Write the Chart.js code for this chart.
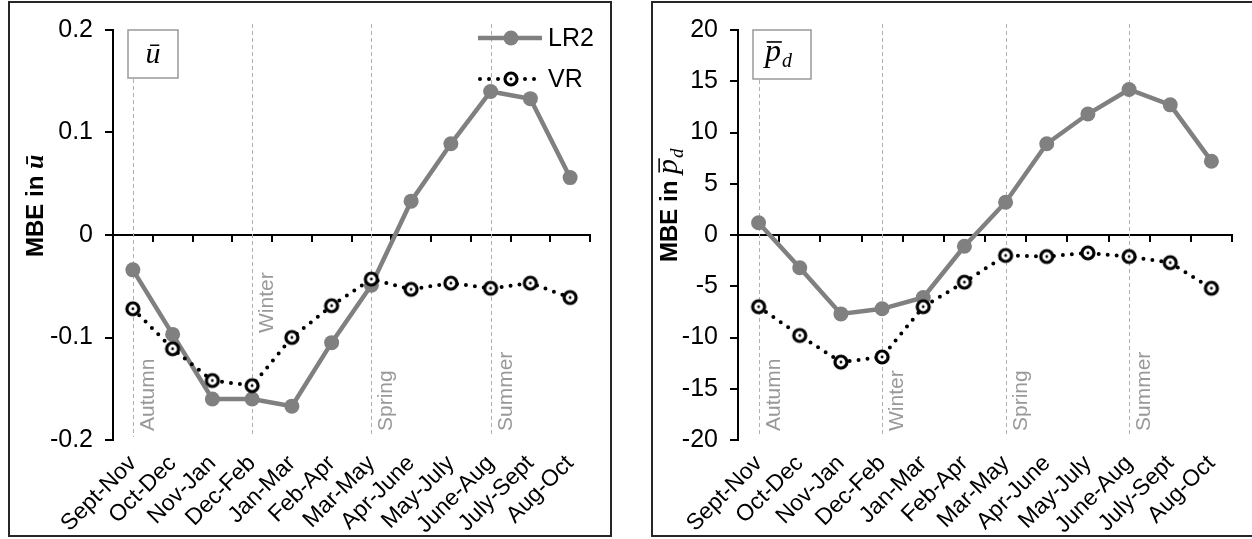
<!DOCTYPE html>
<html>
<head>
<meta charset="utf-8">
<script src="https://cdn.jsdelivr.net/npm/chart.js@4"></script>
<style>
body{margin:0;background:#fff;width:1252px;height:539px;overflow:hidden;position:relative;}
.panel{position:absolute;border:2px solid #262626;background:#fff;}
.panel canvas{display:block;}
</style>
</head>
<body>
<div class="panel" style="left:8px;top:1px;width:600px;height:532px"><canvas id="uChart" width="600" height="532"></canvas></div>
<div class="panel" style="left:651px;top:1px;width:601px;height:532px"><canvas id="pdChart" width="599" height="532"></canvas></div>
<script>
// three-month windows on the x axis
const periods = ["Sept-Nov","Oct-Dec","Nov-Jan","Dec-Feb","Jan-Mar","Feb-Apr","Mar-May","Apr-June","May-July","June-Aug","July-Sept","Aug-Oct"];

// MBE of mean wind speed
const uLR2 = [-0.034,-0.097,-0.160,-0.160,-0.167,-0.105,-0.049,0.033,0.089,0.140,0.133,0.056];
const uVR  = [-0.072,-0.111,-0.142,-0.147,-0.100,-0.069,-0.043,-0.053,-0.047,-0.052,-0.047,-0.061];

// MBE of mean power density
const pdLR2 = [1.2,-3.2,-7.7,-7.2,-6.1,-1.1,3.2,8.9,11.8,14.2,12.7,7.2];
const pdVR  = [-7.0,-9.8,-12.4,-11.9,-7.0,-4.6,-2.0,-2.1,-1.75,-2.1,-2.7,-5.2];

// season boundaries
const seasonNames  = ["Autumn","Winter","Spring","Summer"];
const seasonStarts = ["Sept-Nov","Dec-Feb","Mar-May","June-Aug"];

const SANS = 'Arial, "Liberation Sans", sans-serif';
const SERIF = '"Liberation Serif", "Times New Roman", serif';
const GREY = "#808080";

Chart.defaults.font.family = SANS;
Chart.defaults.color = "#000";

// open ring marker for VR
function ringMarker(){
const c=document.createElement("canvas");
c.width=20;c.height=20;
const g=c.getContext("2d");
g.beginPath();g.arc(10,10,6,0,Math.PI*2);
g.fillStyle="#fff";g.fill();
g.lineWidth=3.2;g.strokeStyle="#000";g.stroke();
g.beginPath();g.arc(10,10,1.4,0,Math.PI*2);
g.fillStyle="#000";g.fill();
return c;
}
const ring = ringMarker();

// italic u with bar
function drawU(ctx,x,y,size,bold){
ctx.font=(bold?"bold ":"")+"italic "+size+"px "+SERIF;
ctx.fillText("\u016B",x,y);
return ctx.measureText("\u016B").width;
}

// italic p with overline and subscript d
function drawPd(ctx,x,y,size){
ctx.font="italic "+size+"px "+SERIF;
ctx.fillText("p",x,y);
const w=ctx.measureText("p").width;
ctx.fillRect(x+size*0.05,y-size*0.62,w*0.95,Math.max(1.2,size*0.05));
const s=Math.round(size*0.62);
ctx.font="italic "+s+"px "+SERIF;
ctx.fillText("d",x+w+1,y+size*0.2);
return w+1+ctx.measureText("d").width;
}

const panelDecor={
id:"panelDecor",
beforeDatasetsDraw(chart,args,opts){
const {ctx,chartArea:a,scales:{x}}=chart;
ctx.save();
// dashed season lines
ctx.strokeStyle="#b0b0b0";ctx.lineWidth=1;ctx.setLineDash([4,3]);
seasonStarts.forEach((p,i)=>{
const px=Math.round(x.getPixelForValue(periods.indexOf(p)))+0.5;
const top=i===0?a.top+opts.boxH+1:a.top-6;
ctx.beginPath();ctx.moveTo(px,top);ctx.lineTo(px,a.bottom-3);ctx.stroke();
});
ctx.setLineDash([]);
// season names, vertical
ctx.fillStyle="#999";ctx.font="21px "+SANS;
ctx.textAlign="left";ctx.textBaseline="alphabetic";
seasonNames.forEach((s,i)=>{
const px=x.getPixelForValue(periods.indexOf(seasonStarts[i]));
ctx.save();ctx.translate(px+21,a.bottom-9-opts.seasonLift[i]);ctx.rotate(-Math.PI/2);
ctx.fillText(s,0,0);ctx.restore();
});
// variable box
const bx=a.left+15,by=a.top;
ctx.fillStyle="#fff";ctx.fillRect(bx,by,opts.boxW,opts.boxH);
ctx.strokeStyle="#999";ctx.lineWidth=1.5;
ctx.strokeRect(bx,by,opts.boxW,opts.boxH);
ctx.fillStyle="#000";ctx.textAlign="left";
if(opts.symbol==="u"){
ctx.font="italic 30px "+SERIF;
const w=ctx.measureText("\u016B").width;
drawU(ctx,bx+opts.boxW/2-w/2,by+33,30,false);
}else{
drawPd(ctx,bx+12,by+31,32);
}
ctx.restore();
},
afterDraw(chart,args,opts){
const {ctx,chartArea:a}=chart;
ctx.save();
ctx.fillStyle="#000";ctx.textAlign="left";ctx.textBaseline="alphabetic";
// y axis title, rotated
ctx.font="bold 24px "+SANS;
const head="MBE in ";
const hw=ctx.measureText(head).width;
const sw=opts.symbol==="u"?16:26;
ctx.translate(opts.titleX+9,opts.titleY);
ctx.rotate(-Math.PI/2);
const x0=-(hw+sw)/2;
ctx.font="bold 24px "+SANS;
ctx.fillText(head,x0,0);
if(opts.symbol==="u") drawU(ctx,x0+hw,0,26,true);
else drawPd(ctx,x0+hw,0,30);
ctx.restore();
// legend
if(opts.legend){
const lx=a.right-112,ly1=a.top+8,ly2=a.top+49;
ctx.save();
ctx.strokeStyle=GREY;ctx.lineWidth=4.5;
ctx.beginPath();ctx.moveTo(lx,ly1);ctx.lineTo(lx+64,ly1);ctx.stroke();
ctx.fillStyle=GREY;ctx.beginPath();ctx.arc(lx+33,ly1,7.5,0,Math.PI*2);ctx.fill();
ctx.strokeStyle="#000";ctx.lineWidth=4;ctx.lineCap="round";ctx.setLineDash([0,9]);
ctx.beginPath();ctx.moveTo(lx+2,ly2);ctx.lineTo(lx+64,ly2);ctx.stroke();
ctx.setLineDash([]);
ctx.drawImage(ring,lx+33-10,ly2-10);
ctx.fillStyle="#000";ctx.font="25px "+SANS;ctx.textBaseline="middle";
ctx.fillText("LR2",lx+70,ly1+1);
ctx.fillText("VR",lx+70,ly2+1);
ctx.restore();
}
}
};

function makePanel(id,lr2,vr,yMin,yMax,step,fmt,yWidth,decor){
return new Chart(document.getElementById(id),{
type:"line",
data:{
labels:periods,
datasets:[
{label:"VR",data:vr,order:0,borderColor:"#000",borderWidth:4,borderDash:[0,9],borderCapStyle:"round",
pointStyle:ring,pointRadius:7,pointHoverRadius:7,tension:0,fill:false},
{label:"LR2",data:lr2,order:1,borderColor:GREY,borderWidth:4.5,pointBackgroundColor:GREY,pointBorderColor:GREY,
pointBorderWidth:0,pointRadius:7.5,pointHoverRadius:7.5,tension:0,fill:false}
]
},
options:{
responsive:false,
animation:false,
events:[],
layout:{padding:{left:0,right:20,top:26,bottom:0}},
plugins:{legend:{display:false},tooltip:{enabled:false},panelDecor:decor},
scales:{
x:{
type:"category",position:"bottom",offset:true,
grid:{display:false},border:{display:false},
ticks:{autoSkip:false,minRotation:45,maxRotation:45,padding:2,font:{size:23},color:"#000"},
afterFit(s){s.height=95;}
},
x0:{
type:"category",position:{y:0},offset:true,
grid:{display:true,offset:true,drawOnChartArea:false,drawTicks:true,tickLength:6,color:"#000",lineWidth:2},
border:{display:true,color:"#000",width:2},
ticks:{display:false}
},
y:{
min:yMin,max:yMax,
ticks:{stepSize:step,callback:fmt,font:{size:25},padding:12,color:"#000"},
grid:{drawOnChartArea:false,tickLength:8,color:"#000",lineWidth:2},
border:{color:"#000",width:2},
afterFit(s){s.width=yWidth;}
}
}
},
plugins:[panelDecor]
});
}

makePanel("uChart",uLR2,uVR,-0.2,0.2,0.1,v=>v===0?"0":v.toFixed(1),103,
{symbol:"u",boxW:50,boxH:48,titleX:24,titleY:202,legend:true,seasonLift:[0,98,0,0]});
makePanel("pdChart",pdLR2,pdVR,-20,20,5,v=>String(v),85,
{symbol:"pd",boxW:58,boxH:49,titleX:15,titleY:202,legend:false,seasonLift:[0,0,0,0]});
</script>
</body>
</html>
